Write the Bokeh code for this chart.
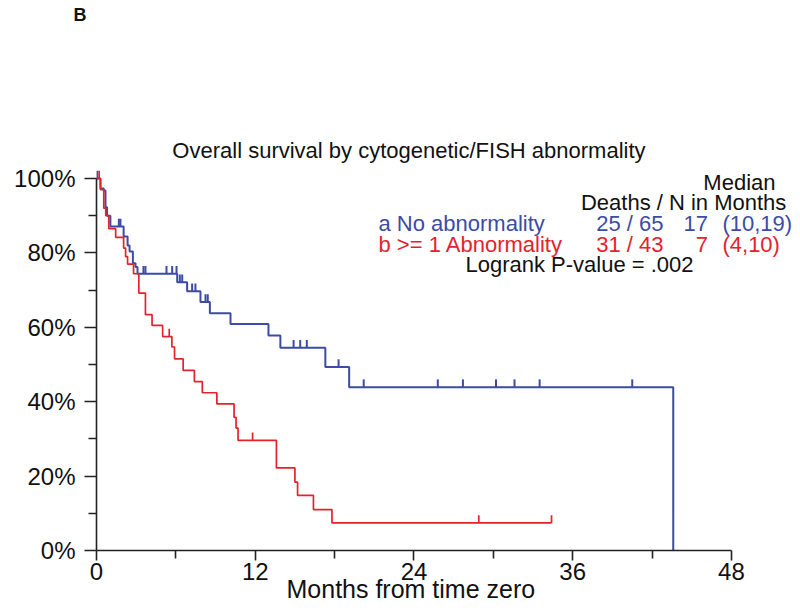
import numpy as np
from bokeh.plotting import figure
from bokeh.models import Range1d, FixedTicker, Label, Title
from bokeh.embed import file_html
from bokeh.resources import INLINE

# ---------------- data ----------------
# Group a: No abnormality (blue)
a_times = [0.0, 0.3, 0.55, 0.68, 0.8, 1.05, 2.05, 2.35, 2.5, 2.75, 2.95, 3.1,
           6.1, 6.85, 7.86, 8.57, 10.13, 13.0, 13.9, 17.3, 19.1, 43.6]
a_surv = [100.0, 97.3, 96.8, 92.3, 90.0, 87.1, 84.4, 82.0, 80.4, 77.2, 76.2, 74.4,
          72.1, 69.7, 66.8, 63.8, 60.9, 57.8, 54.5, 49.3, 43.9, 0.0]
a_censor = [0.05, 1.69, 1.81, 3.55, 3.7, 5.29, 5.72, 6.05, 6.3, 6.48, 7.23, 7.48,
            8.24, 8.41, 14.9, 15.4, 15.9, 18.3, 20.2, 25.8, 27.7, 30.2, 31.6, 33.5, 40.5]
a_end = 43.6

# Group b: >= 1 Abnormality (red)
b_times = [0.0, 0.3, 0.55, 0.7, 0.93, 1.45, 2.05, 2.2, 2.35, 2.8, 3.2, 3.7, 4.2,
           5.0, 5.7, 5.9, 6.55, 7.4, 8.0, 9.1, 10.4, 10.55, 10.7, 13.6, 15.0, 15.2,
           16.4, 17.8]
b_surv = [100.0, 97.0, 92.0, 90.0, 86.5, 84.2, 81.3, 79.0, 77.0, 74.4, 69.2, 63.4, 60.5,
          57.5, 54.7, 51.5, 48.4, 45.4, 42.4, 39.4, 35.8, 32.9, 29.6, 22.2, 18.4, 14.8,
          11.0, 7.4]
b_censor = [0.2, 5.5, 11.8, 28.9, 34.4]
b_end = 34.4

# legend table
group_names = ["a No abnormality", "b >= 1 Abnormality"]
deaths = [25, 31]
n_total = [65, 43]
medians = ["17", "7"]
median_ci = ["(10,19)", "(4,10)"]
pvalue_text = "Logrank P-value = .002"

x_ticks = [0, 12, 24, 36, 48]
x_minor = [6, 18, 30, 42]
y_ticks = [0, 20, 40, 60, 80, 100]
y_minor = [10, 30, 50, 70, 90]
y_labels = ["0%", "20%", "40%", "60%", "80%", "100%"]

title_text = "Overall survival by cytogenetic/FISH abnormality"
x_label_text = "Months from time zero"
panel_text = "B"

BLUE = "#3C4BA5"
RED = "#E5222C"
FONT = "Liberation Sans"

# ---------------- figure ----------------
p = figure(width=800, height=610, output_backend="svg", toolbar_location=None,
           x_range=Range1d(0, 53.22), y_range=Range1d(0, 140.86),
           min_border_left=96, min_border_right=0, min_border_top=26,
           min_border_bottom=60)
p.outline_line_color = None
p.xgrid.visible = False
p.ygrid.visible = False
p.background_fill_color = "white"
p.border_fill_color = "white"

for ax in (p.xaxis[0], p.yaxis[0]):
    ax.axis_line_color = "#222222"
    ax.axis_line_width = 1.6
    ax.major_tick_line_color = "#222222"
    ax.major_tick_line_width = 1.6
    ax.minor_tick_line_color = "#222222"
    ax.minor_tick_line_width = 1.6
    ax.major_tick_in = 0
    ax.minor_tick_in = 0
    ax.major_label_text_font = FONT
    ax.major_label_text_font_size = "24px"
    ax.major_label_text_color = "#111111"

p.xaxis.ticker = FixedTicker(ticks=x_ticks, minor_ticks=x_minor)
p.yaxis.ticker = FixedTicker(ticks=y_ticks, minor_ticks=y_minor)
p.yaxis.major_label_overrides = {t: l for t, l in zip(y_ticks, y_labels)}
p.xaxis.major_tick_out = 10
p.xaxis.minor_tick_out = 8
p.yaxis.major_tick_out = 12
p.yaxis.minor_tick_out = 8
p.xaxis.major_label_standoff = 2
p.yaxis.major_label_standoff = 9
p.xaxis.bounds = (0, 48)
p.yaxis.bounds = (0, 100)

# x axis title, centred under the 24-month tick
p.add_layout(Title(text=x_label_text, text_font=FONT, text_font_size="25px",
                   text_font_style="normal", text_color="#111111", align="left",
                   offset=190, standoff=-19), "below")

p.add_layout(Title(text=panel_text, text_font=FONT, text_font_size="18px",
                   text_font_style="bold", text_color="#111111", align="left",
                   offset=-23, standoff=4), "above")


def draw_group(times, surv, cens, end, color, width):
    xs = list(times) + [end]
    ys = list(surv) + [surv[-1]]
    p.step(xs, ys, mode="after", line_color=color, line_width=width)
    t = np.array(times)
    s = np.array(surv)
    c = np.array(cens)
    idx = np.searchsorted(t, c, side="right") - 1
    cy = s[idx]
    p.segment(x0=c, y0=cy, x1=c, y1=cy + 2.1, line_color=color, line_width=width)


draw_group(a_times, a_surv, a_censor, a_end, BLUE, 2.0)
draw_group(b_times, b_surv, b_censor, b_end, RED, 1.7)

# ---------------- texts ----------------
def lab(x, y, text, color="#111111", size="22px", align="left", style="normal"):
    p.add_layout(Label(x=x, y=y, text=text, text_color=color, text_font=FONT,
                       text_font_size=size, text_align=align,
                       text_baseline="middle", text_font_style=style))


lab(23.62, 107.5, title_text, align="center", size="22px")

lab(51.33, 98.9, "Median", align="right")
lab(52.15, 93.5, "Deaths / N in Months", align="right")
colors = [BLUE, RED]
rows_y = [87.8, 82.2]
for i in range(2):
    lab(21.32, rows_y[i], group_names[i], color=colors[i])
    lab(42.86, rows_y[i], f"{deaths[i]} / {n_total[i]}", color=colors[i], align="right")
    lab(46.22, rows_y[i], medians[i], color=colors[i], align="right")
    lab(47.32, rows_y[i], median_ci[i], color=colors[i])
lab(27.89, 76.8, pvalue_text)

open("out.html", "w").write(file_html(p, INLINE))
